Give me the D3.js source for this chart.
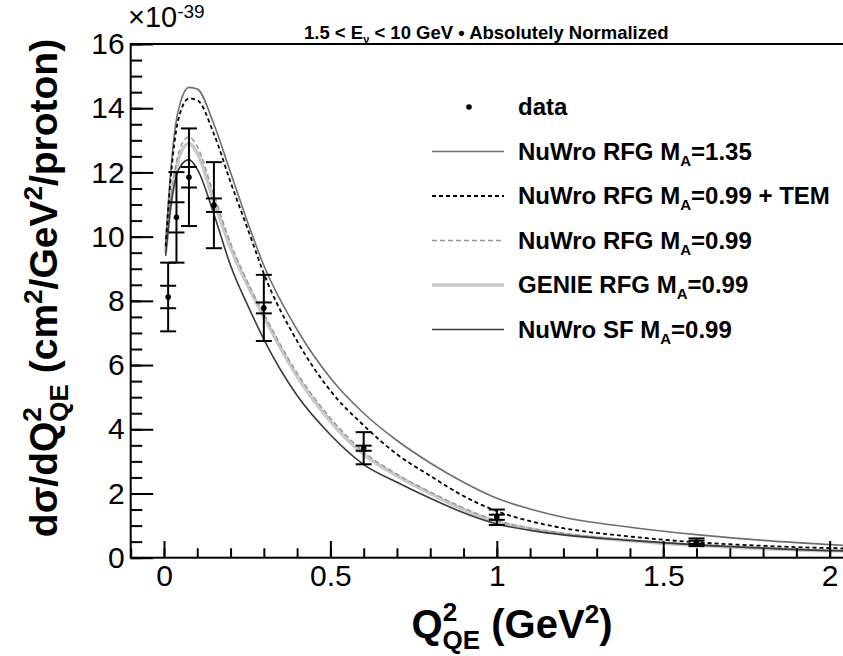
<!DOCTYPE html>
<html>
<head>
<meta charset="utf-8">
<script src="https://cdn.jsdelivr.net/npm/d3@7/dist/d3.min.js"></script>
<style>
  body { margin: 0; background: #fff; }
  svg { display: block; }
  text { font-family: "Liberation Sans", Arial, Helvetica, sans-serif; fill: #000; }
</style>
</head>
<body>
<div id="chart"></div>
<script>
// measured data points (bin centres, cross section in 1e-39 units)
const dataQ2 = [0.0125, 0.0375, 0.075, 0.15, 0.3, 0.6, 1.0, 1.6];
const dataXs = [8.12, 10.6, 11.85, 10.98, 7.78, 3.41, 1.26, 0.48];
const dataStat = [0.35, 0.47, 0.32, 0.21, 0.17, 0.08, 0.08, 0.05];
const dataTot = [1.07, 1.41, 1.52, 1.34, 1.03, 0.5, 0.24, 0.12];

// model predictions
const modelQ2 = [0.005, 0.02, 0.035, 0.05, 0.075, 0.1, 0.15, 0.2, 0.26, 0.3, 0.4, 0.5, 0.6, 0.7, 0.8, 0.9, 1.0, 1.1, 1.2, 1.4, 1.6, 1.8, 2.0, 2.05];
const rfg135 = [9.8, 12.0, 13.5, 14.2, 14.65, 14.6, 13.5, 12.0, 10.2, 9.1, 7.1, 5.6, 4.5, 3.65, 2.95, 2.35, 1.85, 1.52, 1.26, 0.95, 0.72, 0.54, 0.41, 0.38];
const rfgTem = [9.7, 11.8, 13.2, 13.9, 14.3, 14.25, 13.2, 11.7, 10.0, 8.85, 6.75, 5.2, 4.12, 3.22, 2.55, 1.92, 1.45, 1.14, 0.92, 0.66, 0.48, 0.37, 0.3, 0.29];
const rfg099 = [9.6, 11.2, 12.2, 12.8, 13.1, 12.8, 11.3, 9.8, 8.4, 7.6, 5.75, 4.35, 3.3, 2.6, 2.05, 1.55, 1.15, 0.92, 0.76, 0.55, 0.4, 0.3, 0.23, 0.22];
const genie099 = [9.5, 11.0, 12.0, 12.6, 12.9, 12.6, 11.1, 9.65, 8.3, 7.5, 5.65, 4.25, 3.22, 2.55, 2.0, 1.5, 1.12, 0.9, 0.74, 0.53, 0.39, 0.29, 0.22, 0.21];
const sf099 = [9.4, 10.9, 11.8, 12.2, 12.4, 12.1, 10.7, 9.1, 7.67, 6.8, 5.05, 3.83, 2.9, 2.35, 1.85, 1.4, 1.05, 0.85, 0.71, 0.54, 0.4, 0.3, 0.22, 0.21];

const xTicks = [0, 0.5, 1, 1.5, 2];
const xTickLabels = ["0", "0.5", "1", "1.5", "2"];
const yTicks = [0, 2, 4, 6, 8, 10, 12, 14, 16];
const yTickLabels = ["0", "2", "4", "6", "8", "10", "12", "14", "16"];

const W = 843, H = 656;
const plot = { left: 130.7, right: 846.3, top: 44, bottom: 557.7 };

const x = d3.scaleLinear().domain([-0.1, 2.05]).range([plot.left, plot.right]);
const y = d3.scaleLinear().domain([0, 16]).range([plot.bottom, plot.top]);

const svg = d3.select("#chart").append("svg")
  .attr("width", W).attr("height", H);

svg.append("defs").append("clipPath").attr("id", "clip")
  .append("rect")
  .attr("x", plot.left).attr("y", plot.top)
  .attr("width", plot.right - plot.left).attr("height", plot.bottom - plot.top);

// models with their line style and legend label
const models = [
  { vals: genie099, color: "#c9c9c9", w: 3.5, dash: null, pre: "GENIE RFG M", post: "=0.99" },
  { vals: rfg099, color: "#9a9a9a", w: 1.5, dash: "5,3", pre: "NuWro RFG M", post: "=0.99" },
  { vals: sf099, color: "#3a3a3a", w: 1.6, dash: null, pre: "NuWro SF M", post: "=0.99" },
  { vals: rfg135, color: "#6e6e6e", w: 1.6, dash: null, pre: "NuWro RFG M", post: "=1.35" },
  { vals: rfgTem, color: "#000", w: 1.8, dash: "4,3", pre: "NuWro RFG M", post: "=0.99 + TEM" },
];

const line = d3.line()
  .x((d) => x(d[0]))
  .y((d) => y(d[1]))
  .curve(d3.curveMonotoneX);

const curves = svg.append("g").attr("clip-path", "url(#clip)");
models.forEach((m) => {
  curves.append("path")
    .datum(modelQ2.map((q, i) => [q, m.vals[i]]))
    .attr("d", line)
    .attr("fill", "none")
    .attr("stroke", m.color)
    .attr("stroke-width", m.w)
    .attr("stroke-dasharray", m.dash);
});

// data with stat and total error bars
const points = dataQ2.map((q, i) => ({ q, v: dataXs[i], s: dataStat[i], t: dataTot[i] }));
const cap = 8;
const pts = svg.append("g").attr("stroke", "#000").attr("stroke-width", 2);
points.forEach((p) => {
  const px = x(p.q);
  pts.append("line").attr("x1", px).attr("x2", px)
    .attr("y1", y(p.v - p.t)).attr("y2", y(p.v + p.t));
  [p.v - p.t, p.v + p.t, p.v - p.s, p.v + p.s].forEach((e) => {
    pts.append("line").attr("x1", px - cap).attr("x2", px + cap)
      .attr("y1", y(e)).attr("y2", y(e));
  });
});
svg.append("g").selectAll("circle")
  .data(points).enter().append("circle")
  .attr("cx", (d) => x(d.q)).attr("cy", (d) => y(d.v))
  .attr("r", 2.8).attr("fill", "#000");

// axes: major and minor ticks pointing inward
function styleAxis(g) {
  g.select(".domain").remove();
  g.selectAll(".tick line").attr("stroke", "#000").attr("stroke-width", 2);
  g.selectAll(".tick text").attr("font-size", 30).attr("fill", "#000")
    .attr("font-family", '"Liberation Sans", Arial, sans-serif');
}

svg.append("g").attr("transform", `translate(0,${plot.bottom})`)
  .call(d3.axisBottom(x).ticks(20).tickSize(-9.4).tickFormat(""))
  .call(styleAxis);
svg.append("g").attr("transform", `translate(0,${plot.bottom})`)
  .call(d3.axisBottom(x).tickValues(xTicks).tickSize(-16.7).tickPadding(7)
    .tickFormat((d, i) => xTickLabels[i]))
  .call(styleAxis);

svg.append("g").attr("transform", `translate(${plot.left},0)`)
  .call(d3.axisLeft(y).ticks(32).tickSize(-11.5).tickFormat(""))
  .call(styleAxis);
svg.append("g").attr("transform", `translate(${plot.left},0)`)
  .call(d3.axisLeft(y).tickValues(yTicks).tickSize(-22.5).tickPadding(6)
    .tickFormat((d, i) => yTickLabels[i]))
  .call(styleAxis);

svg.append("rect")
  .attr("x", plot.left).attr("y", plot.top)
  .attr("width", plot.right - plot.left).attr("height", plot.bottom - plot.top)
  .attr("fill", "none").attr("stroke", "#000").attr("stroke-width", 2);

// exponent
const expo = svg.append("text").attr("x", 128).attr("y", 27).attr("font-size", 29);
expo.append("tspan").text("\u00d710");
expo.append("tspan").attr("font-size", 19).attr("dy", -9).text("-39");

// header
const head = svg.append("text").attr("x", 304).attr("y", 39)
  .attr("font-size", 18.5).attr("font-weight", "bold");
head.append("tspan").text("1.5 < E");
head.append("tspan").attr("font-size", 11).attr("dy", 4).text("\u03bd");
head.append("tspan").attr("dy", -4).text(" < 10 GeV \u2022 Absolutely Normalized");

// axis titles
const ytitle = svg.append("text")
  .attr("transform", "translate(57,288) rotate(-90)")
  .attr("text-anchor", "middle")
  .attr("font-size", 39).attr("font-weight", "bold");
ytitle.append("tspan").text("d\u03c3/dQ");
ytitle.append("tspan").attr("font-size", 26).attr("dy", -16).text("2");
ytitle.append("tspan").attr("font-size", 26).attr("dx", -14.5).attr("dy", 27).text("QE");
ytitle.append("tspan").attr("dy", -11).text(" (cm");
ytitle.append("tspan").attr("font-size", 26).attr("dy", -15).text("2");
ytitle.append("tspan").attr("dy", 15).text("/GeV");
ytitle.append("tspan").attr("font-size", 26).attr("dy", -15).text("2");
ytitle.append("tspan").attr("dy", 15).text("/proton)");

const xtitle = svg.append("text")
  .attr("x", 512).attr("y", 638)
  .attr("text-anchor", "middle")
  .attr("font-size", 40).attr("font-weight", "bold");
xtitle.append("tspan").text("Q");
xtitle.append("tspan").attr("font-size", 26).attr("dy", -17).text("2");
xtitle.append("tspan").attr("font-size", 26).attr("dx", -14.5).attr("dy", 28).text("QE");
xtitle.append("tspan").attr("dy", -11).text(" (GeV");
xtitle.append("tspan").attr("font-size", 26).attr("dy", -15).text("2");
xtitle.append("tspan").attr("dy", 15).text(")");

// legend
const legendRows = [107, 151.5, 196, 240.5, 285, 329.5];
const legendOrder = [3, 4, 1, 0, 2];
const leg = svg.append("g");
leg.append("circle").attr("cx", 469).attr("cy", legendRows[0]).attr("r", 2.8).attr("fill", "#000");
leg.append("text").attr("x", 518).attr("y", legendRows[0] + 8)
  .attr("font-size", 24).attr("font-weight", "bold").text("data");
legendOrder.forEach((mi, k) => {
  const m = models[mi];
  const ry = legendRows[k + 1];
  leg.append("line").attr("x1", 432).attr("x2", 504).attr("y1", ry).attr("y2", ry)
    .attr("stroke", m.color).attr("stroke-width", m.w).attr("stroke-dasharray", m.dash);
  const t = leg.append("text").attr("x", 518).attr("y", ry + 8)
    .attr("font-size", 24).attr("font-weight", "bold");
  t.append("tspan").text(m.pre);
  t.append("tspan").attr("font-size", 15).attr("dy", 6).text("A");
  t.append("tspan").attr("dy", -6).text(m.post);
});
</script>
</body>
</html>
